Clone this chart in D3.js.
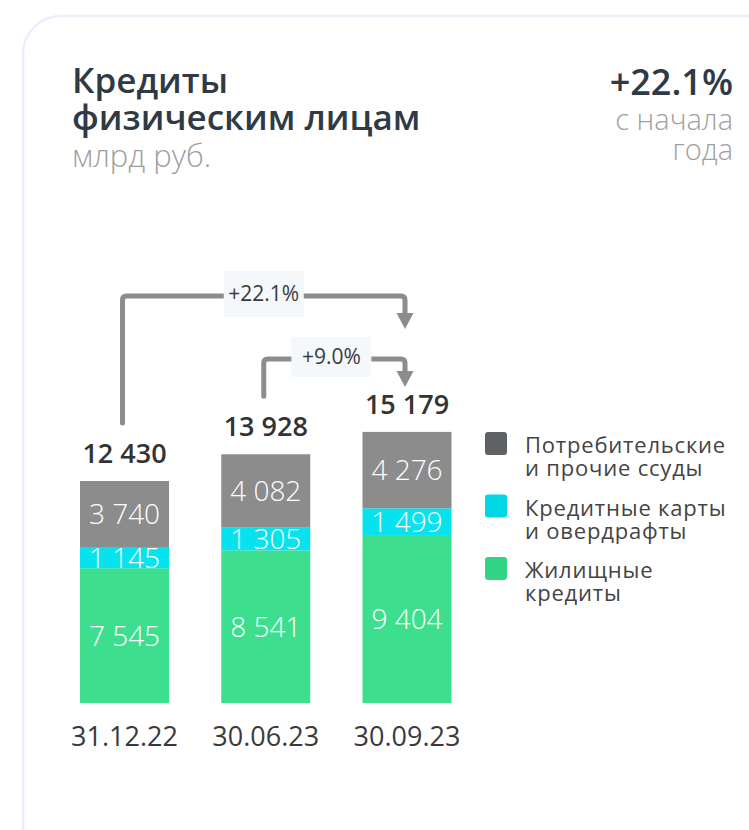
<!DOCTYPE html>
<html>
<head>
<meta charset="utf-8">
<script src="https://cdn.jsdelivr.net/npm/d3@7"></script>
<style>
  body { margin: 0; background: #fff; }
  svg { display: block; font-family: "Open Sans", "DejaVu Sans", sans-serif; }
</style>
</head>
<body>
<div id="chart"></div>
<script>
var width = 749, height = 830;

// data
var dates = ["31.12.22", "30.06.23", "30.09.23"];
var mortgage = [7545, 8541, 9404];
var cards = [1145, 1305, 1499];
var consumer = [3740, 4082, 4276];
var totals = [12430, 13928, 15179];
var seriesKeys = ["mortgage", "cards", "consumer"];
var seriesNames = {
    consumer: ["Потребительские", "и прочие ссуды"],
    cards: ["Кредитные карты", "и овердрафты"],
    mortgage: ["Жилищные", "кредиты"]
};
var barColors = { mortgage: "#3ddf8f", cards: "#07e3ee", consumer: "#8c8c8c" };
var legendColors = { mortgage: "#34d486", cards: "#00d6e4", consumer: "#5f6264" };
var growthFrom = [0, 1];
var growthTo = [2, 2];
var growthLabels = ["+22.1%", "+9.0%"];

var rows = dates.map(function (d, i) {
    return { date: d, mortgage: mortgage[i], cards: cards[i], consumer: consumer[i] };
});

var ru = d3.formatLocale({ decimal: ".", thousands: " ", grouping: [3], currency: ["", ""] });
var fmt = ru.format(",d");

var svg = d3.select("#chart").append("svg")
    .attr("width", width)
    .attr("height", height);

// card
svg.append("rect")
    .attr("x", 23).attr("y", 16)
    .attr("width", 770).attr("height", 870)
    .attr("rx", 38)
    .style("fill", "#fff")
    .style("stroke", "#ebeffc")
    .style("stroke-width", 2.5);

// header
var title = svg.append("text")
    .attr("x", 72).attr("y", 93)
    .style("font-size", "35px")
    .style("font-weight", 600)
    .style("fill", "#2f3a44");
title.append("tspan").attr("x", 72).text("Кредиты");
title.append("tspan").attr("x", 72).attr("dy", 37).text("физическим лицам");

svg.append("text")
    .attr("x", 72).attr("y", 167)
    .style("font-size", "31px")
    .style("font-weight", 300)
    .style("fill", "#9e9e9e")
    .text("млрд руб.");

svg.append("text")
    .attr("x", 733).attr("y", 95)
    .attr("text-anchor", "end")
    .style("font-size", "36px")
    .style("font-weight", 600)
    .style("fill", "#2f3a44")
    .text("+22.1%");

var sub = svg.append("text")
    .attr("x", 733).attr("y", 130)
    .attr("text-anchor", "end")
    .style("font-size", "29px")
    .style("font-weight", 300)
    .style("fill", "#a0a0a0");
sub.append("tspan").attr("x", 733).text("с начала");
sub.append("tspan").attr("x", 733).attr("dy", 30).text("года");

// scales
var x = d3.scaleBand()
    .domain(dates)
    .range([80, 451.5])
    .paddingInner(0.37)
    .paddingOuter(0);

var y = d3.scaleLinear()
    .domain([0, 16000])
    .range([703, 703 - 16000 * 0.01786]);

var stack = d3.stack().keys(seriesKeys);
var layers = stack(rows);

var g = svg.append("g").attr("class", "bars");

var layer = g.selectAll("g.layer")
    .data(layers)
    .enter().append("g")
    .attr("class", "layer")
    .style("fill", function (d) { return barColors[d.key]; });

layer.selectAll("rect")
    .data(function (d) { return d; })
    .enter().append("rect")
    .attr("x", function (d) { return x(d.data.date); })
    .attr("y", function (d) { return y(d[1]); })
    .attr("width", x.bandwidth())
    .attr("height", function (d) { return y(d[0]) - y(d[1]); });

// segment values
layers.forEach(function (l) {
    g.selectAll("text.v-" + l.key)
        .data(l)
        .enter().append("text")
        .attr("class", "v-" + l.key)
        .attr("x", function (d) { return x(d.data.date) + x.bandwidth() / 2; })
        .attr("y", function (d) { return (y(d[0]) + y(d[1])) / 2; })
        .attr("dy", "0.36em")
        .attr("text-anchor", "middle")
        .style("font-size", "28px")
        .style("font-weight", 300)
        .style("fill", "#fff")
        .text(function (d) { return fmt(d.data[l.key]); });
});

// totals
g.selectAll("text.total")
    .data(totals)
    .enter().append("text")
    .attr("class", "total")
    .attr("x", function (d, i) { return x(dates[i]) + x.bandwidth() / 2; })
    .attr("y", function (d) { return y(d) - 18; })
    .attr("text-anchor", "middle")
    .style("font-size", "27px")
    .style("font-weight", 600)
    .style("fill", "#333")
    .text(function (d) { return fmt(d); });

// date labels
g.selectAll("text.date")
    .data(dates)
    .enter().append("text")
    .attr("class", "date")
    .attr("x", function (d) { return x(d) + x.bandwidth() / 2; })
    .attr("y", 746)
    .attr("text-anchor", "middle")
    .style("font-size", "27px")
    .style("fill", "#3a3a3a")
    .text(function (d) { return d; });

// growth arrows
var topY = y(d3.max(totals));
var levels = [topY - 136, topY - 73];
var tips = [topY - 103, topY - 45];
var boxH = [46, 40];
var arrows = svg.append("g").attr("class", "arrows");

growthLabels.forEach(function (lab, k) {
    var x1 = x(dates[growthFrom[k]]) + x.bandwidth() / 2 - 2,
        x2 = x(dates[growthTo[k]]) + x.bandwidth() / 2 - 2,
        y0 = y(totals[growthFrom[k]]) - 58,
        lv = levels[k],
        tip = tips[k],
        r = 4;
    arrows.append("path")
        .attr("d", "M" + x1 + "," + y0 + "L" + x1 + "," + (lv + r) +
            "Q" + x1 + "," + lv + " " + (x1 + r) + "," + lv +
            "L" + (x2 - r) + "," + lv +
            "Q" + x2 + "," + lv + " " + x2 + "," + (lv + r) +
            "L" + x2 + "," + (tip - 14))
        .style("fill", "none")
        .style("stroke", "#8c8c8c")
        .style("stroke-width", 5)
        .style("stroke-linecap", "round");
    arrows.append("path")
        .attr("d", "M" + (x2 - 8.5) + "," + (tip - 16) + "L" + (x2 + 8.5) + "," + (tip - 16) + "L" + x2 + "," + tip + "Z")
        .style("fill", "#8c8c8c");
    var cx = (x1 + x2) / 2 - (k === 1 ? 3 : 0);
    arrows.append("rect")
        .attr("x", cx - 40).attr("y", lv - boxH[k] / 2 - 2)
        .attr("width", 80).attr("height", boxH[k])
        .style("fill", "#f4f8fa");
    arrows.append("text")
        .attr("x", cx).attr("y", lv - 2)
        .attr("dy", "0.36em")
        .attr("text-anchor", "middle")
        .style("font-size", "21px")
        .style("fill", "#3a3a3a")
        .text(lab);
});

// legend
var legendKeys = ["consumer", "cards", "mortgage"];
var legend = svg.append("g").attr("class", "legend")
    .attr("transform", "translate(485,432)");

var item = legend.selectAll("g")
    .data(legendKeys)
    .enter().append("g")
    .attr("transform", function (d, i) { return "translate(0," + (i * 62.5) + ")"; });

item.append("rect")
    .attr("width", 22).attr("height", 23)
    .attr("rx", 3)
    .style("fill", function (d) { return legendColors[d]; });

var lt = item.append("text")
    .attr("x", 40).attr("y", 21)
    .style("font-size", "22px")
    .style("letter-spacing", "0.8px")
    .style("fill", "#444");
lt.append("tspan").attr("x", 40).text(function (d) { return seriesNames[d][0]; });
lt.append("tspan").attr("x", 40).attr("dy", 23).text(function (d) { return seriesNames[d][1]; });
</script>
</body>
</html>
